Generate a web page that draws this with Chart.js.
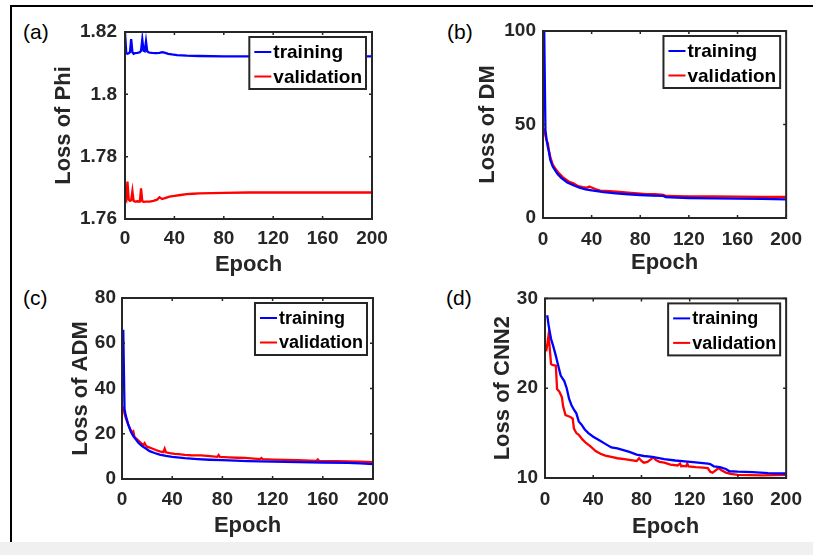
<!DOCTYPE html>
<html>
<head>
<meta charset="utf-8">
<script src="https://cdn.jsdelivr.net/npm/chart.js@4.4.1/dist/chart.umd.min.js"></script>
<style>
  html, body { margin: 0; padding: 0; background: #fff; }
  body { width: 813px; height: 555px; position: relative; overflow: hidden; font-family: Arial, "Liberation Sans", sans-serif; }
  #frame { position: absolute; left: 10px; top: 5px; width: 803px; height: 537px; border-top: 2px solid #000; border-left: 2px solid #000; box-sizing: border-box; }
  #strip { position: absolute; left: 0; top: 542px; width: 813px; height: 13px; background: #f0f0f0; }
  canvas { position: absolute; }
  .tag { position: absolute; font-size: 21px; line-height: 21px; color: #000; }
</style>
</head>
<body>
<div id="frame"></div>
<div id="strip"></div>
<div class="tag" style="left:23px;top:21px">(a)</div>
<div class="tag" style="left:447px;top:21px">(b)</div>
<div class="tag" style="left:23px;top:287px">(c)</div>
<div class="tag" style="left:446px;top:287px">(d)</div>
<canvas id="a" width="400" height="270" style="left:12px;top:8px"></canvas>
<canvas id="b" width="400" height="270" style="left:412px;top:8px"></canvas>
<canvas id="c" width="400" height="262" style="left:12px;top:280px"></canvas>
<canvas id="d" width="400" height="262" style="left:412px;top:280px"></canvas>
<script>
// tick values
const epochTicks = [0, 40, 80, 120, 160, 200];
const phiTicks = [1.76, 1.78, 1.8, 1.82];
const dmTicks = [0, 50, 100];
const admTicks = [0, 20, 40, 60, 80];
const cnnTicks = [10, 20, 30];
const seriesNames = ['training', 'validation'];

// (a) Loss of Phi
const phiTrainEpoch = [0, 1, 2, 3, 4, 5, 6, 7, 8, 10, 12, 13, 14, 15, 16, 17, 18, 19, 20, 22, 25, 28, 30, 32, 35, 38, 42, 46, 50, 60, 80, 100, 140, 200];
const phiTrainLoss = [1.8200, 1.8132, 1.8130, 1.8132, 1.8135, 1.8177, 1.8135, 1.8130, 1.8132, 1.8133, 1.8135, 1.8140, 1.8176, 1.8140, 1.8138, 1.8170, 1.8138, 1.8135, 1.8134, 1.8133, 1.8132, 1.8133, 1.8135, 1.8134, 1.8130, 1.8128, 1.8126, 1.8125, 1.8124, 1.8123, 1.8122, 1.8122, 1.8122, 1.8122];
const phiValEpoch = [0, 1, 2, 3, 4, 5, 6, 7, 8, 10, 12, 13, 14, 15, 17, 20, 23, 26, 28, 30, 33, 36, 40, 45, 50, 55, 60, 70, 80, 100, 140, 200];
const phiValLoss = [1.7666, 1.7660, 1.7720, 1.7662, 1.7658, 1.7660, 1.7690, 1.7658, 1.7656, 1.7657, 1.7656, 1.7698, 1.7657, 1.7655, 1.7656, 1.7656, 1.7658, 1.7662, 1.7670, 1.7664, 1.7668, 1.7672, 1.7674, 1.7677, 1.7680, 1.7681, 1.7682, 1.7683, 1.7684, 1.7685, 1.7685, 1.7685];

// (b) Loss of DM
const dmTrainEpoch = [1, 2, 3, 4, 5, 6, 8, 10, 12, 15, 20, 25, 30, 35, 40, 50, 60, 70, 80, 90, 99, 101, 110, 120, 140, 160, 180, 200];
const dmTrainLoss = [100, 47, 41.5, 38, 35, 31, 27.5, 25.5, 23.5, 21.5, 19, 17.5, 16.2, 15.3, 14.8, 13.8, 13.2, 12.7, 12.3, 12.0, 11.8, 11.2, 10.9, 10.7, 10.5, 10.4, 10.2, 10.0];
const dmValEpoch = [1, 2, 3, 4, 5, 6, 8, 10, 13, 16, 21, 25, 29, 33, 36, 38, 40, 43, 47, 55, 63, 70, 75, 85, 92, 99, 101, 110, 120, 140, 160, 180, 200];
const dmValLoss = [48, 44, 41.5, 40, 35.5, 32.5, 28.5, 26.5, 24, 22, 19.5, 18.5, 17.0, 16.5, 16.2, 16.8, 16.3, 15.5, 14.6, 14.3, 14.0, 13.6, 13.3, 12.8, 12.7, 12.4, 11.8, 11.7, 11.6, 11.5, 11.4, 11.3, 11.3];

// (c) Loss of ADM
const admTrainEpoch = [1, 2, 3, 4, 5, 7, 9, 11, 13, 16, 19, 22, 26, 30, 35, 40, 50, 60, 70, 80, 90, 100, 120, 140, 160, 180, 190, 200];
const admTrainLoss = [66, 31, 28, 26, 24, 21, 19, 17.5, 16, 14.5, 13.5, 12.3, 11.5, 10.8, 10.2, 9.8, 9.2, 8.8, 8.5, 8.3, 8.1, 7.9, 7.7, 7.5, 7.3, 7.1, 6.9, 6.6];
const admValEpoch = [1, 2, 3, 5, 7, 8, 9, 10, 12, 15, 17, 18, 19, 20, 23, 27, 30, 33, 34, 35, 38, 42, 45, 50, 55, 63, 70, 76, 77, 78, 85, 92, 98, 105, 110, 111, 112, 120, 140, 150, 155, 156, 157, 170, 180, 190, 200];
const admValLoss = [32, 29, 27, 24, 21.5, 20.5, 21, 18.5, 17.5, 16, 15, 15.8, 14.8, 14.3, 13.7, 12.8, 12.2, 11.9, 13.4, 11.8, 11.4, 11.1, 11.0, 10.7, 10.5, 10.4, 10.1, 9.8, 10.6, 9.8, 9.6, 9.4, 9.3, 9.0, 8.8, 9.3, 8.8, 8.6, 8.3, 8.1, 8.0, 8.6, 8.0, 7.9, 7.8, 7.7, 7.5];

// (d) Loss of CNN2
const cnnTrainEpoch = [1, 2, 3, 5, 7, 9, 11, 13, 16, 18, 20, 22, 24, 26, 28, 30, 33, 36, 40, 45, 50, 55, 60, 70, 76, 82, 89, 99, 108, 116, 125, 135, 137, 140, 145, 150, 153, 160, 172, 185, 200];
const cnnTrainLoss = [28.0, 28.0, 27.0, 25.5, 24.6, 23.6, 22.5, 21.4, 20.8, 20.0, 18.8, 18.1, 17.6, 17.2, 16.3, 16.0, 15.4, 15.0, 14.6, 14.2, 13.8, 13.4, 13.3, 12.9, 12.6, 12.45, 12.35, 12.1, 11.95, 11.85, 11.75, 11.6, 11.55, 11.3, 11.2, 11.0, 10.75, 10.7, 10.65, 10.55, 10.5];
const cnnValEpoch = [1, 2, 3, 4, 5, 6, 9, 10, 12, 14, 15, 17, 19, 21, 23, 24, 26, 28, 31, 34, 38, 42, 46, 50, 55, 60, 66, 71, 76, 78, 80, 82, 85, 88, 90, 92, 95, 99, 104, 110, 112, 113, 114, 117, 118, 119, 125, 131, 135, 137, 139, 141, 143, 144, 146, 150, 154, 160, 180, 200];
const cnnValLoss = [24.1, 25.0, 26.0, 24.3, 22.7, 22.6, 22.5, 19.9, 19.6, 19.0, 18.0, 17.0, 16.9, 16.8, 16.6, 15.5, 15.0, 14.8, 14.3, 13.9, 13.5, 13.0, 12.7, 12.5, 12.35, 12.2, 12.1, 12.0, 11.9, 12.2, 11.9, 11.7, 11.8, 12.1, 12.3, 12.0, 11.8, 11.7, 11.5, 11.4, 11.6, 11.3, 11.35, 11.3, 11.6, 11.3, 11.2, 11.15, 11.1, 10.7, 10.6, 10.8, 11.0, 11.1, 10.9, 10.6, 10.45, 10.35, 10.3, 10.35];

const FONT = 'Arial, "Liberation Sans", sans-serif';
const INK = '#262626';

function pts(xs, ys) {
  return xs.map((x, i) => ({ x: x, y: ys[i] }));
}

// box, inward tick marks and the boxed legend drawn the MATLAB way
const boxPlugin = {
  id: 'box',
  afterDatasetsDraw(chart, args, opts) {
    const { ctx, chartArea: a, scales: { x, y } } = chart;
    ctx.save();
    ctx.strokeStyle = INK;
    ctx.lineWidth = 1.5;
    ctx.beginPath();
    x.ticks.forEach(t => {
      const px = x.getPixelForValue(t.value);
      ctx.moveTo(px, a.bottom); ctx.lineTo(px, a.bottom - 3);
      ctx.moveTo(px, a.top); ctx.lineTo(px, a.top + 3);
    });
    y.ticks.forEach(t => {
      const py = y.getPixelForValue(t.value);
      ctx.moveTo(a.left, py); ctx.lineTo(a.left + 3, py);
      ctx.moveTo(a.right, py); ctx.lineTo(a.right - 3, py);
    });
    ctx.stroke();
    ctx.lineWidth = 2;
    ctx.strokeRect(a.left, a.top, a.right - a.left, a.bottom - a.top);

    // legend
    ctx.font = 'bold ' + opts.size + 'px ' + FONT;
    const ds = chart.data.datasets;
    const textW = Math.max(...ds.map(d => ctx.measureText(d.label).width));
    const w = 5 + 17 + 2 + textW + 4;
    const h = 52;
    const left = a.right - 6 - w;
    const top = a.top + 5;
    ctx.fillStyle = '#fff';
    ctx.fillRect(left, top, w, h);
    ctx.strokeStyle = INK;
    ctx.lineWidth = 2;
    ctx.strokeRect(left, top, w, h);
    ds.forEach((d, i) => {
      const cy = top + 15 + i * 24.5;
      ctx.strokeStyle = d.borderColor;
      ctx.lineWidth = 2;
      ctx.beginPath();
      ctx.moveTo(left + 5, cy); ctx.lineTo(left + 22, cy);
      ctx.stroke();
      ctx.fillStyle = '#000';
      ctx.textBaseline = 'middle';
      ctx.textAlign = 'left';
      ctx.fillText(d.label, left + 24, cy + 1);
    });
    ctx.restore();
  }
};

const panels = [
  { id: 'a', cx: 12, cy: 8, cw: 400, ch: 270, area: [125, 32, 372, 219],
    yMin: 1.76, yMax: 1.82, yTicks: phiTicks, yTitle: 'Loss of Phi', yTitlePad: 38.8, yTickPad: 8,
    xTickPad: 8, xTitlePad: 0, legend: 19,
    train: pts(phiTrainEpoch, phiTrainLoss), val: pts(phiValEpoch, phiValLoss) },
  { id: 'b', cx: 412, cy: 8, cw: 400, ch: 270, area: [543, 31, 792, 218],
    yMin: 0, yMax: 100, yTicks: dmTicks, yTitle: 'Loss of DM', yTitlePad: 62.5, yTickPad: 7,
    xTickPad: 10, xTitlePad: 2, legend: 19,
    train: pts(dmTrainEpoch, dmTrainLoss), val: pts(dmValEpoch, dmValLoss) },
  { id: 'c', cx: 12, cy: 280, cw: 400, ch: 262, area: [122, 298, 373, 479],
    yMin: 0, yMax: 80, yTicks: admTicks, yTitle: 'Loss of ADM', yTitlePad: 55.8, yTickPad: 6,
    xTickPad: 9, xTitlePad: 3, legend: 18,
    train: pts(admTrainEpoch, admTrainLoss), val: pts(admValEpoch, admValLoss) },
  { id: 'd', cx: 412, cy: 280, cw: 400, ch: 262, area: [545, 298, 793, 478],
    yMin: 10, yMax: 30, yTicks: cnnTicks, yTitle: 'Loss of CNN2', yTitlePad: 77.8, yTickPad: 7,
    xTickPad: 10, xTitlePad: 2, legend: 18,
    train: pts(cnnTrainEpoch, cnnTrainLoss), val: pts(cnnValEpoch, cnnValLoss) }
];

panels.forEach(p => {
  const [L, T, R, B] = p.area;
  new Chart(document.getElementById(p.id), {
    type: 'line',
    data: {
      datasets: [
        { label: seriesNames[0], data: p.train, borderColor: '#0000ff', borderWidth: 2.3, pointRadius: 0, tension: 0 },
        { label: seriesNames[1], data: p.val, borderColor: '#ff0000', borderWidth: 2.3, pointRadius: 0, tension: 0 }
      ]
    },
    options: {
      responsive: false,
      animation: false,
      events: [],
      layout: { padding: { left: 0, top: T - p.cy, right: p.cx + p.cw - R, bottom: 0 } },
      plugins: { legend: { display: false }, tooltip: { enabled: false }, box: { size: p.legend } },
      scales: {
        x: {
          type: 'linear', min: 0, max: 200,
          afterBuildTicks: s => { s.ticks = epochTicks.map(v => ({ value: v })); },
          afterFit: s => { s.height = p.cy + p.ch - B; },
          grid: { display: false, drawTicks: false },
          border: { display: false },
          ticks: { autoSkip: false, maxRotation: 0, padding: p.xTickPad, color: INK,
                   font: { family: FONT, size: 19, weight: 'bold' }, callback: v => String(v) },
          title: { display: true, text: 'Epoch', color: INK, padding: { top: 0, bottom: p.xTitlePad },
                   font: { family: FONT, size: 22, weight: 'bold' } }
        },
        y: {
          type: 'linear', min: p.yMin, max: p.yMax,
          afterBuildTicks: s => { s.ticks = p.yTicks.map(v => ({ value: v })); },
          afterFit: s => { s.width = L - p.cx; },
          grid: { display: false, drawTicks: false },
          border: { display: false },
          ticks: { autoSkip: false, padding: p.yTickPad, color: INK,
                   font: { family: FONT, size: 19, weight: 'bold' }, callback: v => String(v) },
          title: { display: true, text: p.yTitle, color: INK, padding: { top: p.yTitlePad, bottom: 0 },
                   font: { family: FONT, size: 22, weight: 'bold' } }
        }
      }
    },
    plugins: [boxPlugin]
  });
});
</script>
</body>
</html>
